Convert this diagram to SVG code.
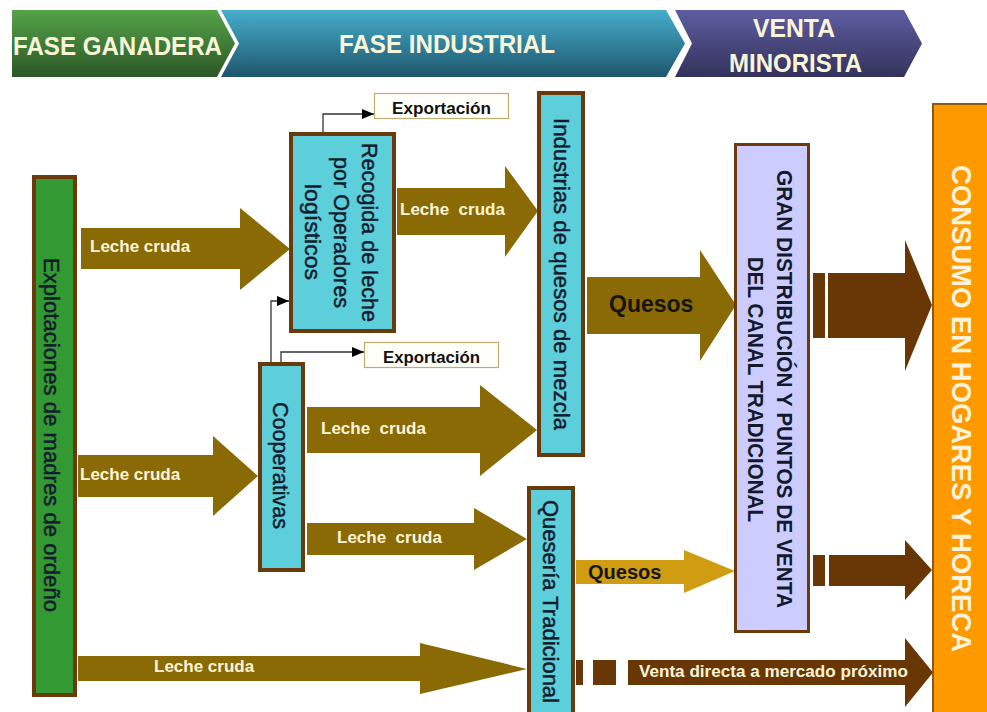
<svg xmlns="http://www.w3.org/2000/svg" width="987" height="712" viewBox="0 0 987 712">
  <defs>
    <linearGradient id="gGreen" x1="0" y1="0" x2="0" y2="1">
      <stop offset="0" stop-color="#55a34a"/>
      <stop offset="1" stop-color="#2c5727"/>
    </linearGradient>
    <linearGradient id="gBlue" x1="0" y1="0" x2="0" y2="1">
      <stop offset="0" stop-color="#46aecb"/>
      <stop offset="1" stop-color="#1e566d"/>
    </linearGradient>
    <linearGradient id="gPurple" x1="0" y1="0" x2="0" y2="1">
      <stop offset="0" stop-color="#5f5da0"/>
      <stop offset="1" stop-color="#33325c"/>
    </linearGradient>
    <marker id="head" viewBox="0 0 12 10" refX="12" refY="5" markerWidth="12" markerHeight="10" markerUnits="userSpaceOnUse" orient="auto">
      <path d="M0,0 L12,5 L0,10 z" fill="#000"/>
    </marker>
  </defs>
  <style>
    text { font-family: "Liberation Sans", Arial, sans-serif; }
    .phase { font-size: 26px; font-weight: bold; fill: #f9f5d9; }
    .node { font-size: 22px; fill: #121a2c; stroke: #121a2c; stroke-width: 0.45; }
    .caps { font-size: 21.5px; font-weight: bold; fill: #121a2c; }
    .lbl { font-size: 17px; font-weight: bold; fill: #fbf5d8; }
    .exp { font-size: 17px; font-weight: bold; fill: #111; }
    .dark { font-weight: bold; fill: #151515; }
    .olive { fill: #8a6a05; }
    .gold { fill: #cf9c12; }
    .brown { fill: #693706; }
    .box { stroke: #6b3a0c; stroke-width: 4; }
    .link { fill: none; stroke: #333; stroke-width: 1.3; marker-end: url(#head); }
  </style>
  <rect width="987" height="712" fill="#fff"/>

  <!-- phase banner -->
  <g id="phases">
    <polygon points="12,10 217,10 235,43.5 217,77 12,77" fill="url(#gGreen)"/>
    <polygon points="221,10 666,10 685,43.5 666,77 221,77 239,43.5" fill="url(#gBlue)"/>
    <polygon points="675,10 904,10 922,43.5 904,77 675,77 692,43.5" fill="url(#gPurple)"/>
    <text class="phase" x="13" y="55" textLength="209" lengthAdjust="spacingAndGlyphs">FASE GANADERA</text>
    <text class="phase" x="339" y="53" textLength="216" lengthAdjust="spacingAndGlyphs">FASE INDUSTRIAL</text>
    <text class="phase" x="753" y="37" textLength="82" lengthAdjust="spacingAndGlyphs">VENTA</text>
    <text class="phase" x="729" y="72" textLength="133" lengthAdjust="spacingAndGlyphs">MINORISTA</text>
  </g>

  <!-- flows between stages -->
  <g id="connectors">
    <polygon class="olive" points="81,228 240,228 240,208 290,249 240,290 240,269 81,269"/>
    <polygon class="olive" points="397,188 505,188 505,166 538,211 505,257 505,235 397,235"/>
    <polygon class="olive" points="587,277 700,277 700,250 736,305 700,361 700,334 587,334"/>
    <polygon class="olive" points="78,455 213,455 213,436 258,476 213,516 213,497 78,497"/>
    <polygon class="olive" points="307,407 480,407 480,385 537,430 480,476 480,453 307,453"/>
    <polygon class="olive" points="307,523 474,523 474,508 527,539 474,570 474,555 307,555"/>
    <polygon class="olive" points="78,656 420,656 420,643 527,669 420,694 420,681 78,681"/>
    <polygon class="gold" points="576,560 684,560 684,550 735,571 684,593 684,584 576,584"/>

    <rect class="brown" x="813" y="273" width="12" height="65"/>
    <polygon class="brown" points="828,273 905,273 905,240 932,305 905,371 905,338 828,338"/>
    <rect class="brown" x="813" y="555" width="12" height="31"/>
    <polygon class="brown" points="829,555 905,555 905,540 932,570 905,600 905,586 829,586"/>
    <rect class="brown" x="576" y="660" width="7" height="25"/>
    <rect class="brown" x="593" y="660" width="23" height="25"/>
    <polygon class="brown" points="628,660 905,660 905,638 933,672.5 905,707 905,685 628,685"/>

    <path class="link" d="M323,132 V114 H374"/>
    <path class="link" d="M271,362 V301 H289"/>
    <path class="link" d="M281,362 V352 H364"/>

    <text class="lbl" x="90" y="252">Leche cruda</text>
    <text class="lbl" x="400" y="215" xml:space="preserve">Leche  cruda</text>
    <text class="dark" x="609" y="312" font-size="23">Quesos</text>
    <text class="lbl" x="80" y="480">Leche cruda</text>
    <text class="lbl" x="321" y="434" xml:space="preserve">Leche  cruda</text>
    <text class="lbl" x="337" y="543" xml:space="preserve">Leche  cruda</text>
    <text class="lbl" x="154" y="672">Leche cruda</text>
    <text class="dark" x="588" y="579" font-size="20">Quesos</text>
    <text class="lbl" x="639" y="677" textLength="269" lengthAdjust="spacingAndGlyphs">Venta directa a mercado próximo</text>
  </g>

  <g id="explotaciones">
    <rect class="box" x="34" y="177" width="41" height="518" fill="#339933"/>
    <text class="node" transform="translate(44,435) rotate(90)" text-anchor="middle" textLength="354" lengthAdjust="spacingAndGlyphs" fill="#0f1a0f" stroke="#0f1a0f">Explotaciones de madres de ordeño</text>
  </g>

  <g id="recogida">
    <rect class="box" x="291" y="134" width="103" height="197" fill="#5ccfda"/>
    <text class="node" transform="translate(362,232.5) rotate(90)" text-anchor="middle" textLength="179" lengthAdjust="spacingAndGlyphs">Recogida de leche</text>
    <text class="node" transform="translate(333.5,232.5) rotate(90)" text-anchor="middle" textLength="151" lengthAdjust="spacingAndGlyphs">por Operadores</text>
    <text class="node" transform="translate(305,232) rotate(90)" text-anchor="middle" textLength="96" lengthAdjust="spacingAndGlyphs">logísticos</text>
  </g>

  <g id="exportacion-1">
    <rect x="374.5" y="93.5" width="134" height="25" fill="#fffffa" stroke="#c2ab72" stroke-width="1.2"/>
    <text class="exp" x="392" y="114" textLength="99" lengthAdjust="spacingAndGlyphs">Exportación</text>
  </g>

  <g id="exportacion-2">
    <rect x="364.5" y="342.5" width="134" height="25" fill="#fffffa" stroke="#c2ab72" stroke-width="1.2"/>
    <text class="exp" x="383" y="363" textLength="97" lengthAdjust="spacingAndGlyphs">Exportación</text>
  </g>

  <g id="industrias">
    <rect class="box" x="539" y="93" width="44" height="362" fill="#5ccfda"/>
    <text class="node" transform="translate(554,274) rotate(90)" text-anchor="middle" textLength="312" lengthAdjust="spacingAndGlyphs">Industrias de quesos de mezcla</text>
  </g>

  <g id="cooperativas">
    <rect class="box" x="260" y="364" width="43" height="206" fill="#5ccfda"/>
    <text class="node" transform="translate(273,465.5) rotate(90)" text-anchor="middle" textLength="127" lengthAdjust="spacingAndGlyphs">Cooperativas</text>
  </g>

  <g id="queseria">
    <rect class="box" x="529" y="488" width="44" height="232" fill="#5ccfda"/>
    <text class="node" transform="translate(543,601.5) rotate(90)" text-anchor="middle" textLength="203" lengthAdjust="spacingAndGlyphs">Quesería Tradicional</text>
  </g>

  <g id="gran-distribucion">
    <rect x="735.5" y="144.5" width="73" height="487" fill="#ccccff" stroke="#6b3a0c" stroke-width="3"/>
    <text class="caps" transform="translate(777,389) rotate(90)" text-anchor="middle" textLength="438" lengthAdjust="spacingAndGlyphs">GRAN DISTRIBUCIÓN Y PUNTOS DE VENTA</text>
    <text class="caps" transform="translate(748,389.5) rotate(90)" text-anchor="middle" textLength="265" lengthAdjust="spacingAndGlyphs">DEL CANAL TRADICIONAL</text>
  </g>

  <g id="consumo">
    <rect x="933" y="104" width="60" height="615" fill="#ff9900" stroke="#8a5a12" stroke-width="2"/>
    <text transform="translate(952,408.5) rotate(90)" text-anchor="middle" font-size="27" font-weight="bold" fill="#fbf3dc" textLength="487" lengthAdjust="spacingAndGlyphs">CONSUMO EN HOGARES Y HORECA</text>
  </g>
</svg>
